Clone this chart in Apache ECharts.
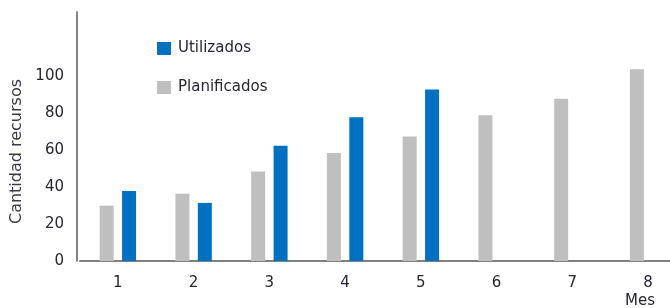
<!DOCTYPE html>
<html>
<head>
<meta charset="utf-8">
<script src="https://cdn.jsdelivr.net/npm/echarts@6/dist/echarts.min.js"></script>
<style>
  html, body { margin: 0; padding: 0; background: #fff; }
  #main { width: 670px; height: 308px; }
</style>
</head>
<body>
<div id="main"></div>
<script>
// datos
var meses = ['1', '2', '3', '4', '5', '6', '7', '8'];
var planificados = [30, 36.5, 48.5, 58.5, 67.5, 79, 88, 104];
var utilizados = [38, 31.5, 62.5, 78, 93, '-', '-', '-'];

var fuente = 'DejaVu Sans';
var colorTexto = '#262633';

var myChart = echarts.init(document.getElementById('main'));

var option = {
    animation: false,
    grid: {
        left: 80,
        top: 12,
        width: 606,
        bottom: 47,
        outerBoundsMode: 'none'
    },
    legend: {
        orient: 'vertical',
        left: 157,
        top: 41,
        padding: 0,
        itemWidth: 14,
        itemHeight: 13,
        itemGap: 24,
        icon: 'rect',
        data: ['Utilizados', 'Planificados'],
        textStyle: {
            fontFamily: fuente,
            fontSize: 15,
            lineHeight: 14,
            color: colorTexto,
            padding: [0, 0, 0, 2]
        }
    },
    xAxis: {
        type: 'category',
        data: meses,
        axisLine: { lineStyle: { color: '#808080', width: 2 } },
        axisTick: { show: false },
        axisLabel: {
            margin: 15,
            fontFamily: fuente,
            fontSize: 15,
            color: colorTexto
        }
    },
    yAxis: {
        type: 'value',
        min: 0,
        max: 135,
        interval: 20,
        offset: 3,
        name: 'Cantidad recursos',
        nameLocation: 'middle',
        nameGap: 50,
        nameTextStyle: {
            fontFamily: fuente,
            fontSize: 16,
            color: '#3a3a4a',
            padding: [0, 30, 0, 0]
        },
        axisLine: { show: true, lineStyle: { color: '#595959', width: 1.5 } },
        axisTick: { show: false },
        splitLine: { show: false },
        axisLabel: {
            margin: 13,
            fontFamily: fuente,
            fontSize: 15,
            color: colorTexto,
            formatter: function (v) {
                return v <= 100 ? v : '';
            }
        }
    },
    graphic: [
        {
            type: 'text',
            left: 625,
            top: 294,
            style: {
                text: 'Mes',
                font: '15px "DejaVu Sans"',
                fill: colorTexto
            }
        }
    ],
    series: [
        {
            name: 'Planificados',
            type: 'bar',
            data: planificados,
            barWidth: 14,
            barGap: '60%',
            itemStyle: { color: '#BFBFBF' }
        },
        {
            name: 'Utilizados',
            type: 'bar',
            data: utilizados,
            barWidth: 14,
            itemStyle: { color: '#0070C0' }
        }
    ]
};

myChart.setOption(option);
</script>
</body>
</html>
